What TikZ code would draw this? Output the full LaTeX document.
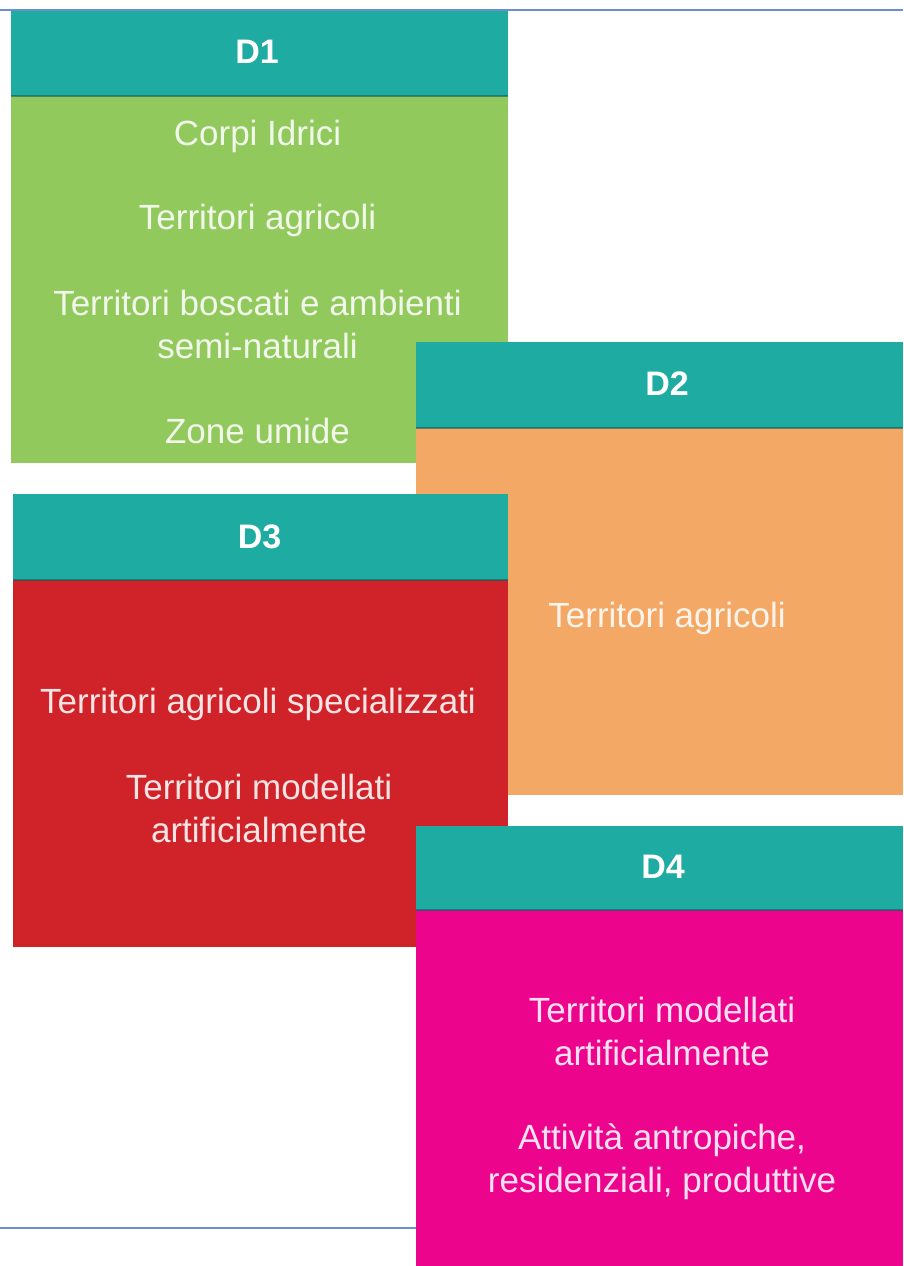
\documentclass[tikz,border=0pt]{standalone}
\usepackage{fontspec}
\setmainfont{Liberation Sans}
\definecolor{teal1}{HTML}{1EABA1}
\definecolor{green1}{HTML}{92C95C}
\definecolor{orange1}{HTML}{F4A866}
\definecolor{red1}{HTML}{CF2229}
\definecolor{mag1}{HTML}{EC058C}
\definecolor{rule1}{HTML}{6A8FD0}
\tikzset{
  panel/.style={rectangle, inner sep=0pt, outer sep=0pt, anchor=north west},
  head/.style={panel, fill=teal1},
  seam/.style={line width=1.2pt, draw=teal1!55!black, opacity=0.6},
  title/.style={anchor=base, inner sep=0pt, text=white, font=\fontsize{34}{40}\selectfont\bfseries},
  item/.style={anchor=base, inner sep=0pt, align=center, text=white, text opacity=0.88,
    font=\fontsize{35}{42.5}\selectfont},
  hrule/.style={draw=rule1, line width=1.6pt}
}
\begin{document}
\begin{tikzpicture}[x=1pt, y=-1pt]
\useasboundingbox (0,0) rectangle (903,1266);
% rules
\coordinate (t0) at (0,10);
\coordinate (t1) at (903,10);
\coordinate (b0) at (0,1228);
\coordinate (b1) at (500,1228);
\draw[hrule] (t0) -- (t1);
\draw[hrule] (b0) -- (b1);
% D1
\node[panel, fill=green1, minimum width=497pt, minimum height=452pt] (d1) at (11,11) {};
\node[head, minimum width=497pt, minimum height=85pt] (h1) at (11,11) {};
\draw[seam] (h1.south west) -- (h1.south east);
\node[title] (t1l) at (257,63) {D1};
\node[item] (d1a) at (257.5,145) {Corpi Idrici};
\node[item] (d1b) at (257.5,229) {Territori agricoli};
\node[item] (d1c) at (257.5,358) {Territori boscati e ambienti\\semi-naturali};
\node[item] (d1d) at (257.5,443) {Zone umide};
% D2
\node[panel, fill=orange1, minimum width=487pt, minimum height=453pt] (d2) at (416,342) {};
\node[head, minimum width=487pt, minimum height=86pt] (h2) at (416,342) {};
\draw[seam] (h2.south west) -- (h2.south east);
\node[title] (t2l) at (667,395) {D2};
\node[item] (d2a) at (667,627) {Territori agricoli};
% D3
\node[panel, fill=red1, minimum width=495pt, minimum height=453pt] (d3) at (13,494) {};
\node[head, minimum width=495pt, minimum height=86pt] (h3) at (13,494) {};
\draw[seam] (h3.south west) -- (h3.south east);
\node[title] (t3l) at (259.5,548) {D3};
\node[item] (d3a) at (258,713) {Territori agricoli specializzati};
\node[item] (d3b) at (259,842) {Territori modellati\\artificialmente};
% D4
\node[panel, fill=mag1, minimum width=487pt, minimum height=440pt] (d4) at (416,826) {};
\node[head, minimum width=487pt, minimum height=84pt] (h4) at (416,826) {};
\draw[seam] (h4.south west) -- (h4.south east);
\node[title] (t4l) at (663,878) {D4};
\node[item] (d4a) at (662,1065) {Territori modellati\\artificialmente};
\node[item] (d4b) at (662,1192) {Attività antropiche,\\residenziali, produttive};
\end{tikzpicture}
\end{document}
